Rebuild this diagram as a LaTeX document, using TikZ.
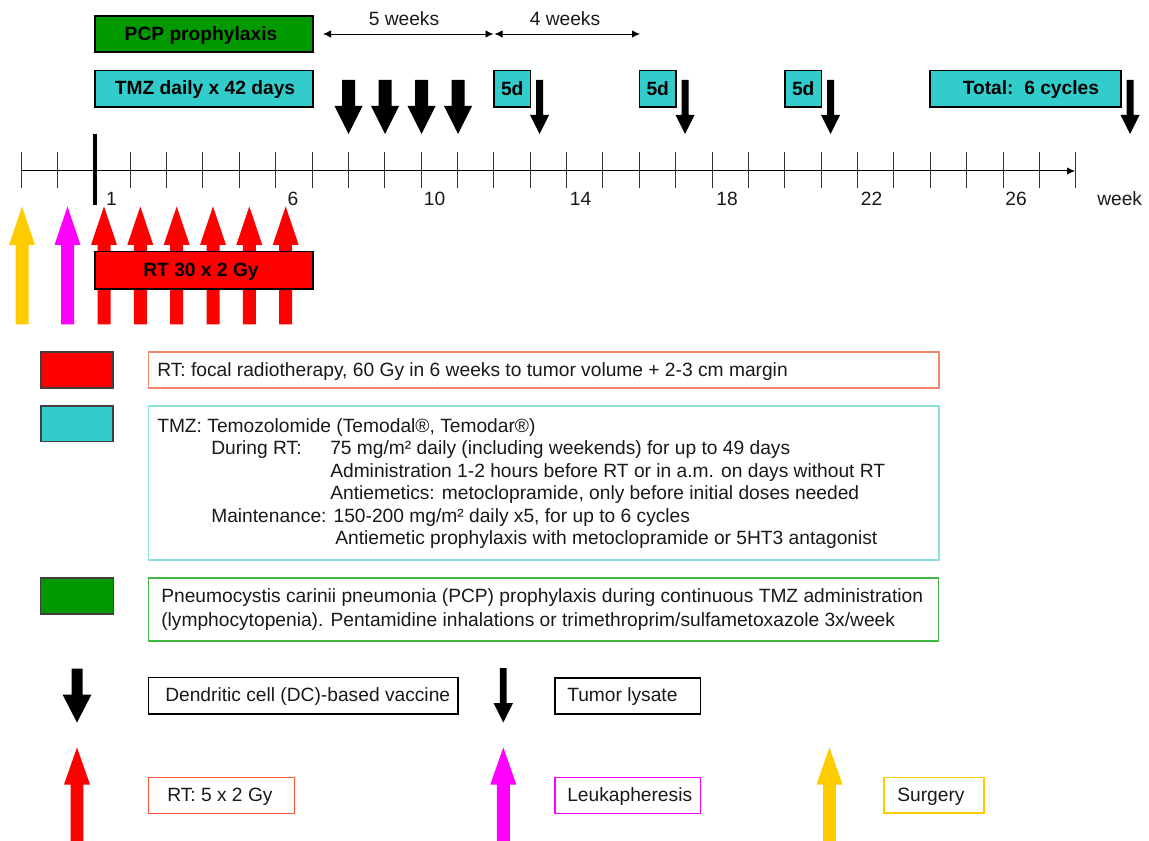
\documentclass[tikz,border=0pt]{standalone}
\usepackage{fontspec}
\setmainfont{Liberation Sans}
\usetikzlibrary{arrows.meta}

\definecolor{pcpgreen}{HTML}{009900}
\definecolor{tmzteal}{HTML}{33CCCC}
\definecolor{rtred}{HTML}{FF0000}
\definecolor{leukmagenta}{HTML}{FF00FF}
\definecolor{surgyellow}{HTML}{FFCC00}
\definecolor{rtline}{HTML}{F4866A}
\definecolor{tmzline}{HTML}{8EDFDF}
\definecolor{pcpline}{HTML}{44B844}
\definecolor{rtfiveline}{HTML}{FF5533}

% block arrow: colour, x, tail, head base, tip, half shaft, half head
\newcommand{\blockarrow}[7]{%
  \fill[#1] ({#2-#6},#3) -- ({#2+#6},#3) -- ({#2+#6},#4) -- ({#2+#7},#4) -- (#2,#5) -- ({#2-#7},#4) -- ({#2-#6},#4) -- cycle;}

\begin{document}
\begin{tikzpicture}[x=0.75pt, y=-0.75pt,
    txt/.style={font=\fontsize{14.4}{17}\selectfont, inner sep=0pt, text=black!90},
    btxt/.style={font=\fontsize{14.4}{17}\selectfont\bfseries, inner sep=0pt},
    tick/.style={line width=0.75pt, draw=black!80},
    topbox/.style={draw=black, line width=0.8pt},
    keysquare/.style={draw=black!75, line width=1pt},
    keybox/.style={line width=0.9pt},
    span/.style={line width=0.6pt, {Latex[length=6pt,width=5.5pt]}-{Latex[length=6pt,width=5.5pt]}}]
  \useasboundingbox (0,0) rectangle (1149,841);

  % top boxes
  \filldraw[topbox, fill=pcpgreen] (95,16) rectangle (313,52);
  \node[btxt, anchor=base] (pcp) at (201,41) {PCP prophylaxis};
  \filldraw[topbox, fill=tmzteal] (95,70.5) rectangle (313,107);
  \node[btxt, anchor=base] (tmz) at (205,95) {TMZ daily x 42 days};

  % intervals
  \coordinate (fivea) at (323,34);
  \coordinate (fiveb) at (493.5,34);
  \coordinate (foura) at (494.5,34);
  \coordinate (fourb) at (640,34);
  \draw[span] (fivea) -- (fiveb);
  \draw[span] (foura) -- (fourb);
  \node[txt, anchor=base] (fivewk) at (404,26) {5 weeks};
  \node[txt, anchor=base] (fourwk) at (565,26) {4 weeks};

  % maintenance cycles
  \foreach \a/\b [count=\i] in {494/530.5, 639.5/676, 785/821.5}{
    \filldraw[topbox, fill=tmzteal] (\a,70.5) rectangle (\b,107);
    \node[btxt, anchor=base] (cyc\i) at ({(\a+\b)/2},95.5) {5d};
  }
  \filldraw[topbox, fill=tmzteal] (930,70.5) rectangle (1121,107);
  \node[btxt, anchor=base west] (total) at (962.5,95) {Total:\ \ 6 cycles};

  % vaccines
  \foreach \x in {348.5,385,421.5,458}
    \blockarrow{black}{\x}{80}{106}{134}{6.5}{14};
  \foreach \x in {539.5,685,830.5,1130}
    \blockarrow{black}{\x}{80}{115}{134}{3.5}{9.5};

  % time axis
  \coordinate (axstart) at (21,171);
  \coordinate (axend) at (1075,171);
  \draw[line width=0.75pt, -{Latex[length=6pt,width=5.5pt]}] (axstart) -- (axend);
  \foreach \k in {-2,-1,1,2,...,27}
    \draw[tick] ({93.8+36.37*\k},152.5) -- ++(0,36);
  \draw[line width=3.4pt] (95,134) -- (95,205);
  \foreach \w/\x in {1/111.5, 6/293, 10/434.5, 14/580.5, 18/727, 22/871.5, 26/1016}
    \node[txt, anchor=base] (wk\w) at (\x,205.5) {\w};
  \node[txt, anchor=base west] (weeklbl) at (1097,205.5) {week};

  % surgery, leukapheresis, radiotherapy
  \blockarrow{surgyellow}{22}{324.5}{245}{206.5}{6.5}{13}
  \blockarrow{leukmagenta}{67.5}{324.5}{245}{206.5}{6.5}{13}
  \foreach \x in {104,140.3,176.7,213,249.3,285.7}
    \blockarrow{rtred}{\x}{324.5}{245}{206.5}{6.5}{13};
  \filldraw[topbox, fill=rtred] (95,251.5) rectangle (313,289);
  \node[btxt, anchor=base] (rt) at (201,276.5) {RT 30 x 2 Gy};

  % legend
  \filldraw[keysquare, fill=rtred] (41,352) rectangle (113,388);
  \draw[keybox, draw=rtline] (148.5,352) rectangle (939,388);
  \node[txt, anchor=base west] (rtkey) at (157,376.5) {RT: focal radiotherapy, 60 Gy in 6 weeks to tumor volume + 2-3 cm margin};

  \filldraw[keysquare, fill=tmzteal] (41,406) rectangle (113,441.5);
  \draw[keybox, draw=tmzline] (148.5,406) rectangle (939,560);
  \node[txt, anchor=base west] (tmzkey) at (157,432) {TMZ: Temozolomide (Temodal®, Temodar®)};
  \node[txt, anchor=base west] (during) at (211,454.5) {During RT:};
  \node[txt, anchor=base west] (dose) at (330,454.5) {75 mg/m² daily (including weekends) for up to 49 days};
  \node[txt, anchor=base west] (admin) at (330,477) {Administration 1-2 hours before RT or in a.m. on days without RT};
  \node[txt, anchor=base west] (emet) at (330,499.5) {Antiemetics: metoclopramide, only before initial doses needed};
  \node[txt, anchor=base west] (maint) at (211,522) {Maintenance: 150-200 mg/m² daily x5, for up to 6 cycles};
  \node[txt, anchor=base west] (proph) at (335,544.5) {Antiemetic prophylaxis with metoclopramide or 5HT3 antagonist};

  \filldraw[keysquare, fill=pcpgreen] (40.5,578) rectangle (113.5,614);
  \draw[keybox, draw=pcpline] (148.5,578) rectangle (938.5,641);
  \node[txt, anchor=base west] (pcpkey) at (161,602.5) {Pneumocystis carinii pneumonia (PCP) prophylaxis during continuous TMZ administration};
  \node[txt, anchor=base west] (pcpkeyb) at (161,626) {(lymphocytopenia). Pentamidine inhalations or trimethroprim/sulfametoxazole 3x/week};

  \blockarrow{black}{77}{668.5}{694.5}{722.5}{5.5}{14.5}
  \draw[keybox, draw=black] (148.5,677.5) rectangle (458,714);
  \node[txt, anchor=base west] (dc) at (165,701.5) {Dendritic cell (DC)-based vaccine};
  \blockarrow{black}{503.3}{668}{703}{722.5}{3.4}{9.7}
  \draw[keybox, draw=black] (555,678) rectangle (700.5,714);
  \node[txt, anchor=base west] (lysate) at (567,701.5) {Tumor lysate};

  \blockarrow{rtred}{77}{841}{784.5}{747.5}{6.3}{13}
  \draw[keybox, draw=rtfiveline] (148.5,777.5) rectangle (294.5,813.5);
  \node[txt, anchor=base west] (rtfive) at (167,801.5) {RT: 5 x 2 Gy};
  \blockarrow{leukmagenta}{503.3}{841}{784.5}{747.5}{6.5}{13}
  \draw[keybox, draw=leukmagenta] (555,777.5) rectangle (700.5,813.5);
  \node[txt, anchor=base west] (leuk) at (567,801.5) {Leukapheresis};
  \blockarrow{surgyellow}{829.5}{841}{784.5}{747.5}{6.3}{13}
  \draw[keybox, draw=surgyellow] (884,777.5) rectangle (984,813);
  \node[txt, anchor=base west] (surg) at (897,801.5) {Surgery};
\end{tikzpicture}
\end{document}
